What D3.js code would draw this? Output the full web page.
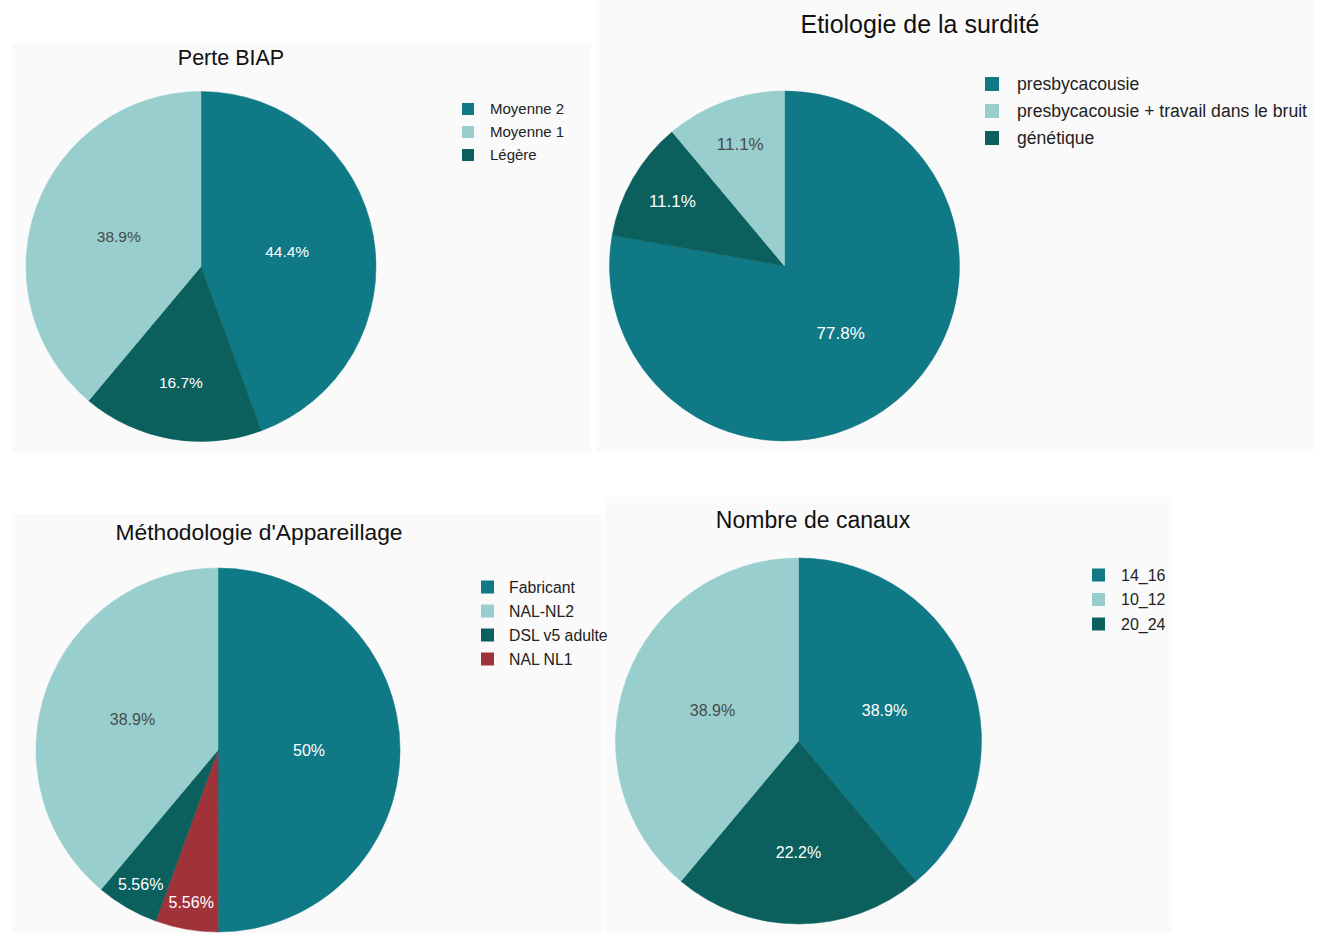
<!DOCTYPE html>
<html lang="fr">
<head>
<meta charset="utf-8">
<title>Appareillage auditif</title>
<script src="https://cdn.jsdelivr.net/npm/d3@7"></script>
<style>
  html, body { margin: 0; padding: 0; background: #ffffff; }
  svg { display: block; font-family: "Liberation Sans", Arial, Helvetica, sans-serif; }
</style>
</head>
<body>
<svg id="chart" width="1327" height="933"></svg>
<script>
// ---- Data (percentages, legend order) ----
const biapTitle = "Perte BIAP";
const biapCategories = ["Moyenne 2", "Moyenne 1", "Légère"];
const biapValues = [44.4, 38.9, 16.7];

const etioTitle = "Etiologie de la surdité";
const etioCategories = ["presbycacousie", "presbycacousie + travail dans le bruit", "génétique"];
const etioValues = [77.8, 11.1, 11.1];

const methodTitle = "Méthodologie d'Appareillage";
const methodCategories = ["Fabricant", "NAL-NL2", "DSL v5 adulte", "NAL NL1"];
const methodValues = [50, 38.9, 5.56, 5.56];

const canauxTitle = "Nombre de canaux";
const canauxCategories = ["14_16", "10_12", "20_24"];
const canauxValues = [38.9, 38.9, 22.2];

// Series palette, applied in legend order
const palette = ["#0f7986", "#98cecd", "#0b605d", "#a0333a"];
const lightFill = "#98cecd";

// ---- Layout of the four panels ----
const panels = [
  { title: biapTitle, cats: biapCategories, vals: biapValues,
    bg: [12, 43, 579, 410], titleX: 231, titleY: 65, titleSize: 21.5,
    cx: 201, cy: 266.5, r: 175, labelSize: 15.5,
    legX: 462, legY: 109, legStep: 23, legSize: 15, sq: 12, legTextX: 490 },
  { title: etioTitle, cats: etioCategories, vals: etioValues,
    bg: [596, 0, 717, 452], titleX: 920, titleY: 33, titleSize: 25,
    cx: 784.5, cy: 266, r: 175, labelSize: 17,
    legX: 985, legY: 84, legStep: 27, legSize: 17.6, sq: 14, legTextX: 1017 },
  { title: methodTitle, cats: methodCategories, vals: methodValues,
    bg: [12, 514, 590, 419], titleX: 259, titleY: 540, titleSize: 22.8,
    cx: 218, cy: 750, r: 182, labelSize: 16,
    legX: 481, legY: 587, legStep: 24, legSize: 15.8, sq: 13, legTextX: 509 },
  { title: canauxTitle, cats: canauxCategories, vals: canauxValues,
    bg: [605, 497, 567, 436], titleX: 813, titleY: 528, titleSize: 23,
    cx: 798.5, cy: 741, r: 183, labelSize: 16,
    legX: 1092, legY: 575, legStep: 24.5, legSize: 16, sq: 13, legTextX: 1121 }
];

const svg = d3.select("#chart");

// Panel backgrounds first, so no panel covers a neighbour's text
svg.append("g").selectAll("rect")
  .data(panels)
  .join("rect")
  .attr("x", p => p.bg[0]).attr("y", p => p.bg[1])
  .attr("width", p => p.bg[2]).attr("height", p => p.bg[3])
  .attr("fill", "#fafafa");

// Labels sit further out on narrow slices so they stay inside the wedge
const labelRadius = d3.scaleLinear()
  .domain([20, 40, 60, 80, 140])
  .range([0.85, 0.74, 0.67, 0.61, 0.5])
  .clamp(true);

const pctFormat = v => d3.format("~r")(v) + "%";

panels.forEach(p => {
  const g = svg.append("g");

  g.append("text")
    .attr("x", p.titleX).attr("y", p.titleY)
    .attr("text-anchor", "middle")
    .attr("font-size", p.titleSize)
    .attr("fill", "#111")
    .text(p.title);

  const color = d3.scaleOrdinal().domain(p.cats).range(palette);

  // Slices run clockwise: first category, then the others in reverse legend order
  const rows = p.cats.map((c, i) => ({ cat: c, value: p.vals[i] }));
  const sliceRows = [rows[0], ...rows.slice(1).reverse()];

  const pie = d3.pie().sort(null).value(d => d.value);
  const arcs = pie(sliceRows);
  const arc = d3.arc().innerRadius(0).outerRadius(p.r);

  const pieG = g.append("g").attr("transform", `translate(${p.cx},${p.cy})`);

  pieG.selectAll("path")
    .data(arcs)
    .join("path")
    .attr("d", arc)
    .attr("fill", d => color(d.data.cat))
    .attr("stroke", d => color(d.data.cat))
    .attr("stroke-width", 0.5);

  pieG.selectAll("text")
    .data(arcs)
    .join("text")
    .attr("transform", d => {
      const span = (d.endAngle - d.startAngle) * 180 / Math.PI;
      const rr = p.r * labelRadius(span);
      const mid = (d.startAngle + d.endAngle) / 2;
      return `translate(${rr * Math.sin(mid)},${-rr * Math.cos(mid)})`;
    })
    .attr("text-anchor", "middle")
    .attr("dy", "0.36em")
    .attr("font-size", p.labelSize)
    .attr("fill", d => color(d.data.cat) === lightFill ? "#4a4a4a" : "#ffffff")
    .text(d => pctFormat(d.data.value));

  const leg = g.append("g");
  const item = leg.selectAll("g")
    .data(p.cats)
    .join("g")
    .attr("transform", (d, i) => `translate(0,${p.legY + i * p.legStep})`);

  item.append("rect")
    .attr("x", p.legX).attr("y", -p.sq / 2)
    .attr("width", p.sq).attr("height", p.sq)
    .attr("fill", d => color(d));

  item.append("text")
    .attr("x", p.legTextX)
    .attr("dy", "0.36em")
    .attr("font-size", p.legSize)
    .attr("fill", "#222")
    .text(d => d);
});
</script>
</body>
</html>
